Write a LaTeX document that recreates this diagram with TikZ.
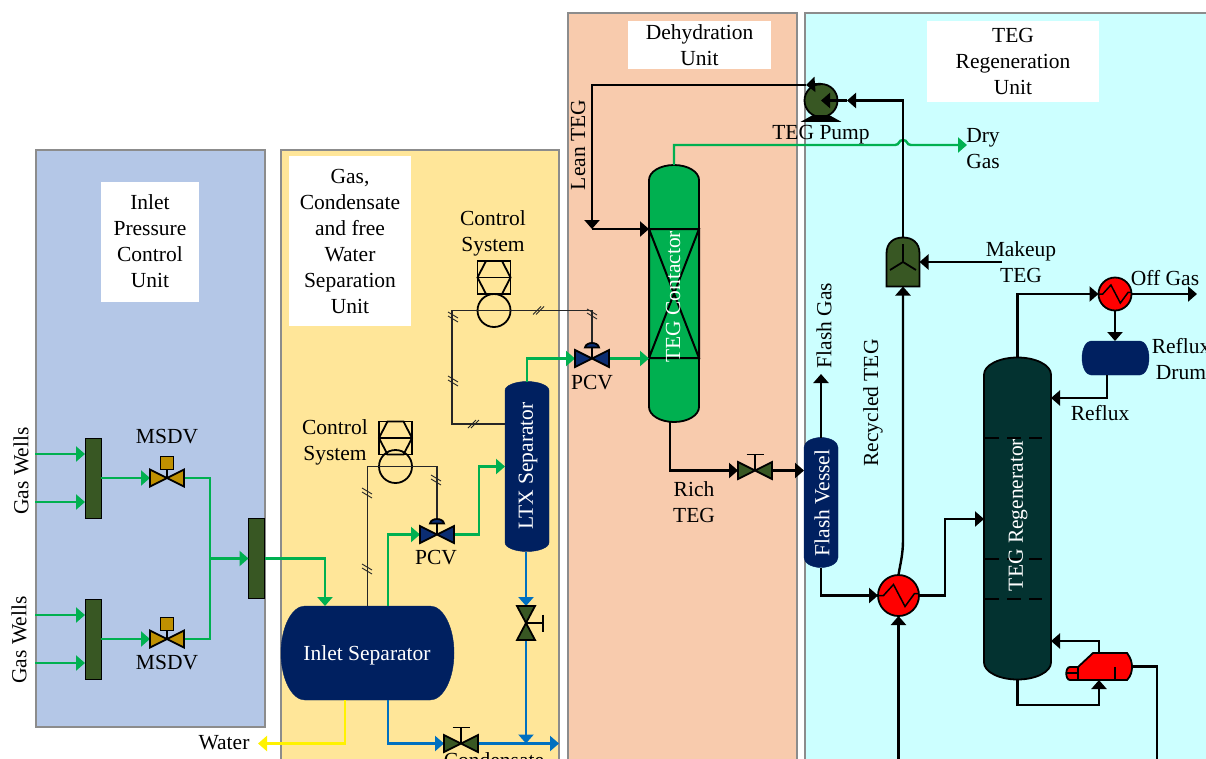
\documentclass[tikz,border=0pt]{standalone}
\usepackage{fontspec}
\setmainfont{Liberation Serif}
\usepackage{tikz}
\usetikzlibrary{positioning, calc, arrows.meta}

\definecolor{panelblue}{HTML}{B4C7E7}
\definecolor{panelyellow}{HTML}{FFE699}
\definecolor{panelorange}{HTML}{F8CBAD}
\definecolor{panelcyan}{HTML}{CCFFFF}
\definecolor{navy}{HTML}{002060}
\definecolor{pcvblue}{HTML}{0B2D72}
\definecolor{darkgreen}{HTML}{385723}
\definecolor{gasgreen}{HTML}{00B050}
\definecolor{liqblue}{HTML}{0070C0}
\definecolor{gold}{HTML}{BF9000}
\definecolor{regenteal}{HTML}{033230}

% bow-tie valves
\newcommand{\hvalve}[3]{
  \node[vbox, minimum width=34pt, minimum height=17pt] (#1) at (#2) {};
  \draw[vline, fill=#3] (#1.north west) -- (#1.south east) -- (#1.north east) -- (#1.south west) -- cycle;}
\newcommand{\vvalve}[3]{
  \node[vbox, minimum width=18pt, minimum height=34pt] (#1) at (#2) {};
  \draw[vline, fill=#3] (#1.north west) -- (#1.south east) -- (#1.south west) -- (#1.north east) -- cycle;}
% diaphragm on top of a valve
\newcommand{\domeact}[1]{
  \draw[vline] (#1.center) -- ([yshift=11pt]#1.center);
  \draw[vline, fill=pcvblue] ([xshift=-7pt,yshift=11pt]#1.center) .. controls ([xshift=-6pt,yshift=17pt]#1.center) and ([xshift=6pt,yshift=17pt]#1.center) .. ([xshift=7pt,yshift=11pt]#1.center) -- cycle;}
% hand wheel on top of a valve
\newcommand{\handwheel}[1]{
  \draw[vline] (#1.center) -- ([yshift=16pt]#1.center);
  \draw[vline] ([xshift=-8.5pt,yshift=16pt]#1.center) -- ([xshift=8.5pt,yshift=16pt]#1.center);}
% hexagon in square over a circle
\newcommand{\ctrlsys}[4]{
  \node[ctrlbox] (#1s) at (#2,#3) {};
  \node[ctrlcirc] (#1c) at (#2,#3+#4) {};
  \draw[vline] ([xshift=-8pt]#1s.north) -- ([xshift=8pt]#1s.north) -- (#1s.east) -- ([xshift=8pt]#1s.south) -- ([xshift=-8pt]#1s.south) -- (#1s.west) -- cycle;
  \draw[vline] (#1s.west) -- (#1s.east) (#1c.west) -- (#1c.east);}
% vertical column with dished heads
\newcommand{\columnbody}[3]{
  \draw[#3] ([yshift=-#2pt]#1.north west)
    .. controls ([yshift=-.45*#2pt]#1.north west) and ($(#1.north)!.55!(#1.north west)$) .. (#1.north)
    .. controls ($(#1.north)!.55!(#1.north east)$) and ([yshift=-.45*#2pt]#1.north east) .. ([yshift=-#2pt]#1.north east)
    -- ([yshift=#2pt]#1.south east)
    .. controls ([yshift=.45*#2pt]#1.south east) and ($(#1.south)!.55!(#1.south east)$) .. (#1.south)
    .. controls ($(#1.south)!.55!(#1.south west)$) and ([yshift=.45*#2pt]#1.south west) .. ([yshift=#2pt]#1.south west) -- cycle;}
% horizontal drum
\newcommand{\drumbody}[3]{
  \draw[#3] ([xshift=#2pt]#1.north west) -- ([xshift=-#2pt]#1.north east)
    .. controls ([xshift=-.45*#2pt]#1.north east) and ($(#1.east)!.55!(#1.north east)$) .. (#1.east)
    .. controls ($(#1.east)!.55!(#1.south east)$) and ([xshift=-.45*#2pt]#1.south east) .. ([xshift=-#2pt]#1.south east)
    -- ([xshift=#2pt]#1.south west)
    .. controls ([xshift=.45*#2pt]#1.south west) and ($(#1.west)!.55!(#1.south west)$) .. (#1.west)
    .. controls ($(#1.west)!.55!(#1.north west)$) and ([xshift=.45*#2pt]#1.north west) .. cycle;}
% exchanger coil
\newcommand{\coilz}[2]{
  \draw[coilline, shift={(#1.center)}, scale=#2] (-20,0) -- (-15,0) -- (-5,-11) -- (6.5,11) -- (16,-2) -- (20,-2);}

\begin{document}
\begin{tikzpicture}[x=1pt, y=-1pt,
  tip/.tip={Triangle[length=9pt, width=15pt]},
  lbl/.style={font=\fontsize{21.5}{26}\selectfont, align=center, inner sep=0pt},
  wlbl/.style={lbl, text=white},
  panel/.style={draw=black!45, line width=1.3pt, inner sep=0pt, outer sep=0pt},
  title/.style={lbl, fill=white},
  vbox/.style={inner sep=0pt, outer sep=0pt},
  body/.style={inner sep=0pt, outer sep=0pt},
  vline/.style={black, line width=1.8pt},
  coilline/.style={black, line width=1.5pt, line join=miter},
  manifold/.style={draw=black, line width=1pt, fill=darkgreen, inner sep=0pt, outer sep=0pt, minimum width=16pt, minimum height=80pt},
  act/.style={draw=black, line width=1.6pt, fill=gold, inner sep=0pt, minimum size=13pt},
  ctrlbox/.style={draw=black, line width=1.8pt, inner sep=0pt, outer sep=0pt, minimum size=33pt},
  ctrlcirc/.style={circle, draw=black, line width=1.8pt, inner sep=0pt, outer sep=0pt, minimum size=33pt},
  hx/.style={circle, draw=black, line width=1.8pt, fill=red, inner sep=0pt, outer sep=0pt},
  gas/.style={gasgreen, line width=2.4pt},
  liq/.style={liqblue, line width=2.4pt},
  teg/.style={black, line width=2.4pt},
  wat/.style={yellow, line width=2.4pt},
  signal/.style={black!85, line width=1.2pt},
  tickm/.style={black!85, line width=.9pt}]
  \useasboundingbox (0,0) rectangle (1206,758);
  \clip (0,0) rectangle (1206,758);
  % unit panels
  \node[panel, fill=panelblue, minimum width=229pt, minimum height=577pt] (unit1) at (150.5,438.5) {};
  \node[panel, fill=panelyellow, minimum width=278pt, minimum height=620pt] (unit2) at (420,460) {};
  \node[panel, fill=panelorange, minimum width=229pt, minimum height=757pt] (unit3) at (682.5,391.5) {};
  \node[panel, line width=2pt, fill=panelcyan, minimum width=415pt, minimum height=757pt] (unit4) at (1012.5,391.5) {};
  \node[title, minimum width=98pt, minimum height=120pt] (title1) at (150,241.5) {Inlet\\Pressure\\Control\\Unit};
  \node[title, minimum width=122pt, minimum height=170pt] (title2) at (350,241) {Gas,\\Condensate\\and free\\Water\\Separation\\Unit};
  \node[title, minimum width=143pt, minimum height=48pt] (title3) at (699.5,45) {Dehydration\\Unit};
  \node[title, minimum width=172pt, minimum height=81pt] (title4) at (1013,61) {TEG\\Regeneration\\Unit};

  % anchors for equipment
  \node[manifold] (man1) at (93,478) {};
  \node[manifold] (man2) at (93,639) {};
  \node[manifold] (man3) at (256.5,558.5) {};
  \node[body, minimum width=173pt, minimum height=94pt] (sep) at (367.5,653) {};
  \node[body, minimum width=44pt, minimum height=170pt] (ltx) at (527,466.5) {};
  \node[body, minimum width=50pt, minimum height=257pt] (tegc) at (674,293.5) {};
  \node[body, minimum width=50pt, minimum height=129pt] (pack) at (674,293.5) {};
  \node[body, minimum width=34pt, minimum height=130pt] (flash) at (821,502.5) {};
  \node[body, minimum width=67pt, minimum height=322pt] (regen) at (1017.5,518.5) {};
  \node[body, minimum width=67pt, minimum height=34pt] (drum) at (1115.5,358) {};
  \node[body, minimum width=33pt, minimum height=49pt] (mix) at (903,262) {};
  \node[body, minimum width=66pt, minimum height=27pt] (reb) at (1099,666.5) {};
  \node[hx, minimum size=41pt] (hx1) at (898.5,595.5) {};
  \node[hx, minimum size=33pt] (cond) at (1115,294) {};
  \node[circle, draw=black, line width=1.8pt, fill=darkgreen, inner sep=0pt, outer sep=0pt, minimum size=33pt] (pump) at (821,100.5) {};
  \node[body, minimum width=34pt, minimum height=17pt] (msdv1) at (167,478) {};
  \node[body, minimum width=34pt, minimum height=17pt] (msdv2) at (167,639) {};
  \node[body, minimum width=34pt, minimum height=17pt] (pcv1) at (437,534.5) {};
  \node[body, minimum width=34pt, minimum height=17pt] (pcv2) at (592,358.5) {};
  \node[body, minimum width=34pt, minimum height=17pt] (hv1) at (461,743.5) {};
  \node[body, minimum width=34pt, minimum height=17pt] (hv2) at (755,470.5) {};
  \node[body, minimum width=18pt, minimum height=34pt] (hv3) at (526,623) {};

  % free ends and bends
  \coordinate (well1) at (35,454);   \coordinate (well2) at (35,502);
  \coordinate (well3) at (35,615);   \coordinate (well4) at (35,663);
  \coordinate (gasjoin) at (210,558.5);
  \coordinate (sepin) at (325,606);  \coordinate (sepgas) at (388,606);
  \coordinate (sepliq) at (388,700); \coordinate (sepwat) at (345,700);
  \coordinate (waterout) at (258,743.5);
  \coordinate (condout) at (559,743.5);
  \coordinate (bendltx) at (479,466.5);
  \coordinate (leantop) at (592,85); \coordinate (leanmid) at (806,85);
  \coordinate (leanin) at (592,229);
  \coordinate (richout) at (670,422);
  \coordinate (dryout) at (967,145);
  \coordinate (recycl) at (903,100.5); \coordinate (pumpin) at (847,100.5);
  \coordinate (recycb) at (903,540);
  \coordinate (makeup) at (1002,262);
  \coordinate (flashgas) at (821,374);
  \coordinate (hxout) at (945,519);
  \coordinate (regtop) at (1017.5,294);
  \coordinate (offgas) at (1197,294);
  \coordinate (drumout) at (1107,375);
  \coordinate (refl) at (1107,398);
  \coordinate (botin) at (898.5,770);
  \coordinate (rebret) at (1099,641);
  \coordinate (rebout) at (1157,770);
  \coordinate (regbot) at (1017.5,705);
  \coordinate (ctl1) at (452,310.5);   \coordinate (ltxctl) at (505,424);

  % shapes behind the lines
  \drumbody{sep}{24}{fill=navy, draw=navy}
  \columnbody{ltx}{9}{fill=navy, draw=navy}
  \columnbody{flash}{10}{fill=navy, draw=navy}
  \drumbody{drum}{9}{fill=navy, draw=navy}
  \columnbody{tegc}{15}{fill=gasgreen, draw=black, line width=1.8pt}
  \columnbody{regen}{17}{fill=regenteal, draw=black, line width=1.8pt}
  \draw[teg, line width=2pt] (pack.north west) -- (pack.north east) -- (pack.south west) -- (pack.south east) -- (pack.north west) -- (pack.south west) (pack.north east) -- (pack.south east);
  \foreach \y in {438,559,599}
    \draw[black, line width=1.3pt, dash pattern=on 14pt off 8pt] (985,\y) -- (1042,\y);
  \draw[vline, fill=black] (804,121) -- (813,116) -- (829,116) -- (838,121) -- cycle;

  % control lines
  \ctrlsys{csa}{395.5}{438}{28.5}
  \ctrlsys{csb}{494}{277.5}{33}
  \draw[signal] (sep.north) |- (csac.center) -| (pcv1.center);
  \draw[signal] (ltxctl) -| (ctl1) -- (csbc.center) -| (pcv2.center);
  \foreach \x/\y in {473/424, 538/310.5}
    \draw[tickm] (\x-5,\y+4) -- (\x+3,\y-4) (\x-2,\y+4) -- (\x+6,\y-4);
  \foreach \x/\y in {367/493, 367/569, 436/480, 453/317, 453/381, 592/314}
    \draw[tickm] (\x-5,\y-5) -- (\x+5,\y+1) (\x-5,\y-1) -- (\x+5,\y+5);

  % gas lines
  \foreach \w/\m in {well1/man1, well2/man1, well3/man2, well4/man2}
    \draw[gas, -tip] (\w) -- (\w -| \m.west);
  \draw[gas, -tip] (man1.east) -- (msdv1.west);
  \draw[gas, -tip] (man2.east) -- (msdv2.west);
  \draw[gas] (msdv1.east) -| (gasjoin) |- (msdv2.east);
  \draw[gas, -tip] (gasjoin) -- (man3.west);
  \draw[gas, -tip] (man3.east) -| (sepin);
  \draw[gas, -tip] (sepgas) |- (pcv1.west);
  \draw[gas, -tip] (pcv1.east) -| (bendltx) -- (ltx.west);
  \draw[gas, -tip] (ltx.north) |- (pcv2.west);
  \draw[gas, -tip] (pcv2.east) -- (pcv2.east -| tegc.west);
  \draw[gas, -tip] (tegc.north) |- (895,145) .. controls (900,145) and (898,140) .. (903,140) .. controls (908,140) and (906,145) .. (911,145) -- (dryout);

  % liquid lines
  \draw[liq, -tip] (sepliq) |- (hv1.west);
  \draw[liq, -tip] (hv1.east) -- (condout);
  \draw[liq, -tip] (ltx.south -| hv3) -- (hv3.north);
  \draw[liq, -tip] (hv3.south) -- (hv3 |- hv1);
  \draw[wat, -tip] (sepwat) |- (waterout);

  % glycol lines
  \draw[teg, -tip] (pump.north) -- (leanmid);
  \draw[teg, -tip] (leanmid) -- (leantop) -- (leanin);
  \draw[teg, -tip] (leanin) -- (pack.north west);
  \draw[teg, -tip] (richout) |- (hv2.west);
  \draw[teg, -tip] (hv2.east) -- (hv2.east -| flash.west);
  \draw[teg, -tip] (flash.north) -- (flashgas);
  \draw[teg, -tip] (flash.south) |- (hx1.west);
  \draw[teg, -tip] (hx1.east) -| (hxout) -- (hxout -| regen.west);
  \draw[teg, -tip] (botin) -- (hx1.south);
  \draw[teg, -tip] (hx1.north) .. controls (900,565) and (903,555) .. (recycb) -- (mix.south);
  \draw[teg, -tip] (mix.north) |- (pumpin);
  \draw[teg, -tip] (pumpin) -- (pump.center);
  \draw[teg, -tip] (makeup) -- (mix.east);
  \draw[teg, -tip] (regen.north) -- (regtop) -- (cond.west);
  \draw[teg, -tip] (cond.east) -- (offgas);
  \draw[teg, -tip] (cond.south) -- (drum.north -| cond);
  \draw[teg, -tip] (drumout) -- (refl) -- (refl -| regen.east);
  \draw[teg, -tip] (regen.south) |- (regbot -| reb) -- (reb.south);
  \draw[teg, -tip] (reb.north) -- (rebret) -- (rebret -| regen.east);
  \draw[teg] (reb.east) -| (rebout);

  % valves on top of the lines
  \hvalve{msdv1b}{167,478}{gold}
  \hvalve{msdv2b}{167,639}{gold}
  \hvalve{pcv1b}{437,534.5}{pcvblue}
  \hvalve{pcv2b}{592,358.5}{pcvblue}
  \hvalve{hv1b}{461,743.5}{darkgreen}
  \hvalve{hv2b}{755,470.5}{darkgreen}
  \vvalve{hv3b}{526,623}{darkgreen}
  \node[act] (msdv1a) at (167,463) {};
  \node[act] (msdv2a) at (167,624) {};
  \draw[vline] (msdv1a) -- (msdv1b.center);
  \draw[vline] (msdv2a) -- (msdv2b.center);
  \domeact{pcv1b}
  \domeact{pcv2b}
  \handwheel{hv1b}
  \handwheel{hv2b}
  \draw[vline] (hv3b.center) -- ++(17,0) ++(0,-8.5) -- ++(0,17);

  % exchangers, mixer, reboiler
  \coilz{hx1}{1}
  \coilz{cond}{.82}
  \draw[vline, fill=darkgreen] (mix.south west) -- ([yshift=-16pt]mix.north west)
    .. controls ([yshift=-5pt]mix.north west) and ($(mix.north)!.55!(mix.north west)$) .. (mix.north)
    .. controls ($(mix.north)!.55!(mix.north east)$) and ([yshift=-5pt]mix.north east) .. ([yshift=-16pt]mix.north east)
    -- (mix.south east) -- cycle;
  \draw[vline] (903,244) -- (903,262) -- (890,270) (903,262) -- (916,270);
  \draw[vline, fill=red] (1078,667) -- (1093,653) -- (1127,653) .. controls (1131,658) and (1132,663) .. (1132,667)
    .. controls (1132,671) and (1131,676) .. (1127,680) -- (1070,680) .. controls (1065,680) and (1065,667) .. (1070,667) -- cycle;
  \draw[vline] (1078,667) -- (1078,680) (1067,673) -- (1078,673) (1115,667) -- (1115,680);

  % labels
  \node[lbl, rotate=90] (wells1) at (21,471) {Gas Wells};
  \node[lbl, rotate=90] (wells2) at (19,640) {Gas Wells};
  \node[lbl] (tagm1) at (167,437) {MSDV};
  \node[lbl] (tagm2) at (167,663) {MSDV};
  \node[lbl] (tagw) at (224,743) {Water};
  \node[lbl] (tagc1) at (335,442) {Control\\System};
  \node[lbl] (tagc2) at (493,233) {Control\\System};
  \node[lbl] (tagp1) at (436,558) {PCV};
  \node[lbl] (tagp2) at (592,383) {PCV};
  \node[lbl] (tagcd) at (494,760) {Condensate};
  \node[lbl, rotate=90] (taglean) at (578,145) {Lean TEG};
  \node[lbl] (tagrich) at (694,502) {Rich\\TEG};
  \node[lbl] (tagpump) at (821,135) {TEG Pump};
  \node[lbl] (tagdry) at (983,149) {Dry\\Gas};
  \node[lbl, rotate=90] (tagfg) at (824,325.5) {Flash Gas};
  \node[lbl, rotate=90] (tagrt) at (873,403) {Recycled TEG};
  \node[lbl] (tagmk) at (1021,262) {Makeup\\TEG};
  \node[lbl] (tagoff) at (1165,278) {Off Gas};
  \node[lbl] (tagdr) at (1181,359) {Reflux\\Drum};
  \node[lbl] (tagrf) at (1100,413) {Reflux};
  \node[wlbl] (txtsep) at (367,655) {Inlet Separator};
  \node[wlbl, rotate=90] (txtltx) at (528,466) {LTX Separator};
  \node[wlbl, rotate=90] (txtteg) at (673,297) {TEG Contactor};
  \node[wlbl, rotate=90] (txtfl) at (822,503) {Flash Vessel};
  \node[wlbl, rotate=90] (txtreg) at (1018,515) {TEG Regenerator};
\end{tikzpicture}
\end{document}
